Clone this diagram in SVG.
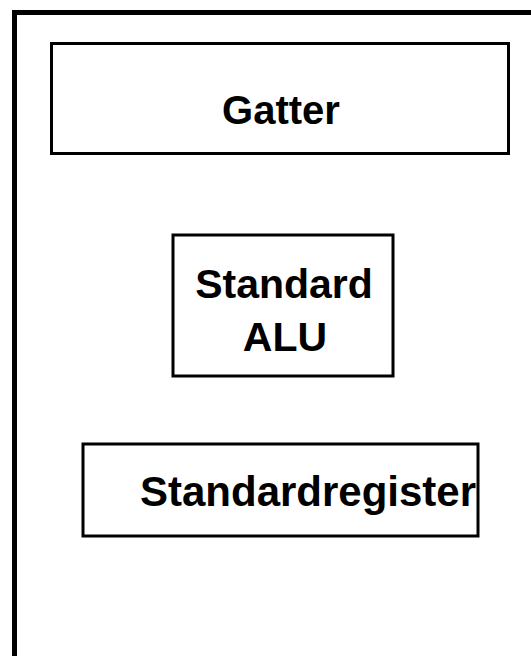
<svg xmlns="http://www.w3.org/2000/svg" width="531" height="656" viewBox="0 0 531 656">
<style>
.box{fill:#fff;stroke:#000;stroke-width:3}
.t{font-family:"Liberation Sans",Arial,sans-serif;font-weight:bold;fill:#000}
</style>
<rect x="0" y="0" width="531" height="656" fill="#fff"/>
<g id="frame"><path d="M14.5,660 V12.5 H535" fill="none" stroke="#000" stroke-width="5"/></g>
<g id="gatter">
<rect class="box" x="51.5" y="43.5" width="457" height="110"/>
<text class="t" x="281" y="124" font-size="40" text-anchor="middle">Gatter</text>
</g>
<g id="alu">
<rect class="box" x="173" y="235" width="220" height="141" stroke-width="2.5"/>
<text class="t" x="284" y="298" font-size="41" text-anchor="middle">Standard</text>
<text class="t" x="285" y="351" font-size="41" text-anchor="middle">ALU</text>
</g>
<g id="register">
<rect class="box" x="83" y="444" width="395" height="92"/>
<text class="t" x="140" y="506" font-size="42" textLength="336">Standardregister</text>
</g>
<g id="connectors"></g>
</svg>
